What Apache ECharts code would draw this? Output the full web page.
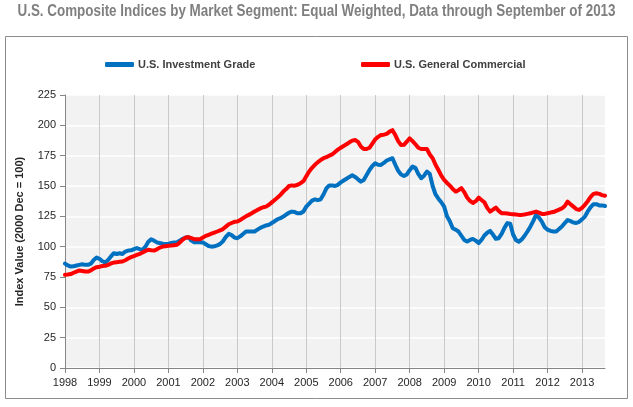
<!DOCTYPE html>
<html>
<head>
<meta charset="utf-8">
<script src="https://cdn.jsdelivr.net/npm/echarts/dist/echarts.min.js"></script>
<style>
html,body{margin:0;padding:0;background:#fff;}
#chart{width:633px;height:407px;}
</style>
</head>
<body>
<div id="chart"></div>
<script>
// Monthly observations, Jan 1998 .. Sep 2013
var startYear = 1998;
var monthCount = 189;
var yTicks = [0, 25, 50, 75, 100, 125, 150, 175, 200, 225];

var investmentGrade = [
  86, 84.5, 83.6, 83.8, 84.5, 85, 85.5, 85, 85, 86, 89, 91,
  90, 88, 87, 89, 92, 94.6, 94, 94.6, 94, 96, 96.8, 97,
  98, 98.8, 98, 97.4, 100, 104, 106, 105, 103.5, 103, 102.5, 102.3,
  102.3, 103, 103.5, 103.7, 105, 106.5, 107.5, 107.8, 105, 103.7, 103.7, 103.7,
  103.5, 102, 100.5, 100, 100.3, 101, 102.3, 104.5, 108, 110.6, 109.5, 107.5,
  107, 108.5, 110.5, 112.5, 112.5, 112.5, 112.5, 114, 115.5, 116.6, 117.5, 118,
  119.5, 121, 122.6, 123.5, 124.8, 126.5, 128, 128.9, 128.5, 127.5, 127.5, 129,
  133, 135.5, 138, 139, 138.3, 139, 143, 148, 150.5, 150.5, 150, 151,
  153, 154.5, 156, 157.5, 158.8, 157.5, 155.5, 153.6, 155, 159, 163.2, 166.5,
  168.7, 167.5, 167.4, 169, 171, 172, 172.9, 167.5, 162.5, 159.5, 158.3, 159.5,
  163, 166, 165, 160, 156.4, 158.5, 161.8, 160, 150, 143, 139.5, 136.6,
  133, 125, 120.7, 115.2, 114, 112.5, 109, 105.5, 104.2, 105.5, 106.4, 105,
  103, 105.5, 109.2, 111.5, 113, 110, 106.5, 107, 110.5, 115.5, 119.4, 119,
  110, 105.5, 104, 106, 109, 112.5, 116.5, 121, 126.2, 124, 120.7, 116,
  114, 113, 112.5, 112.5, 114.5, 116.6, 119.5, 122, 121, 119.9, 119.5, 120.5,
  122.5, 124.8, 129, 132.5, 135, 135, 134, 134, 133.5
];

var generalCommercial = [
  76.8, 77, 77.4, 78.5, 79.5, 80.4, 80, 79.5, 79.5, 80.5, 82, 83.1,
  83.5, 84, 84.2, 85, 86.2, 86.9, 87.2, 87.5, 87.8, 88.8, 90.2, 91.4,
  92.3, 93.2, 94.1, 95.2, 96.5, 97.4, 97, 96.8, 97.8, 99.2, 100.1, 100.4,
  100.7, 100.9, 101.2, 101.5, 103.5, 105.8, 107.5, 107.8, 107, 106.2, 106.2, 106.2,
  107.5, 108.9, 109.8, 110.7, 111.6, 112.5, 113.5, 114.5, 116.5, 118.5, 119.5, 120.5,
  120.7, 122, 123.5, 125, 126.2, 127.5, 129, 130.3, 131.5, 132.5, 133, 134.5,
  136.5, 138.5, 140.5, 142.7, 145.4, 147.5, 150, 150.5, 150.3, 151, 152.3, 154,
  158, 162, 165, 167.5, 169.5, 171.5, 172.9, 173.8, 175, 176, 178, 180,
  181.5, 183, 184.4, 186, 187.4, 187.9, 186.4, 182.5, 180.5, 180.5, 181.5, 185,
  188.5, 190.5, 192, 192.3, 193, 194.8, 196, 192, 187, 183.8, 183.9, 186.5,
  189.3, 187, 184.4, 181.5, 180.5, 180.5, 180.5, 176, 172.9, 167.5, 163.2, 158.5,
  155, 152.5, 150.3, 147.5, 145.4, 146.5, 148.2, 145, 140.5, 137.7, 136, 137.5,
  140.4, 138.5, 136.6, 132, 128.9, 130.5, 132.2, 129.5, 127.6, 127.5, 127.3, 127,
  126.8, 126.5, 126.2, 126.2, 126.5, 127, 127.5, 128.3, 128.9, 128, 127, 127,
  127.5, 128.1, 128.5, 129.5, 130.5, 131.5, 133.5, 137.1, 135, 133, 131, 130.3,
  132, 134.5, 137.5, 141, 143.5, 144, 143.5, 142.5, 142
];

var seriesNames = ['U.S. Investment Grade', 'U.S. General Commercial'];
var seriesColors = ['#0070c0', '#ff0000'];
var titleText = 'U.S. Composite Indices by Market Segment: Equal Weighted, Data through September of 2013';

var months = [];
for (var i = 0; i < monthCount; i++) {
  var y = startYear + Math.floor(i / 12);
  var m = (i % 12) + 1;
  months.push(y + '-' + (m < 10 ? '0' + m : m));
}

// condensed title: measure and squeeze horizontally to the reference width
var titleFont = 'bold 16px "Liberation Sans", Arial, sans-serif';
var mctx = document.createElement('canvas').getContext('2d');
mctx.font = titleFont;
var titleW = mctx.measureText(titleText).width;
var titleScale = Math.min(1, 598 / titleW);

var chart = echarts.init(document.getElementById('chart'));
var labelFont = 'Liberation Sans, Arial, sans-serif';
var legendText = {fontFamily: labelFont, fontWeight: 'bold', fontSize: 11, color: '#404040', padding: [0, 0, 0, -1]};
var option = {
  animation: false,
  backgroundColor: '#ffffff',
  graphic: [{
    type: 'rect',
    shape: {x: 5.5, y: 36.5, width: 622, height: 362},
    style: {fill: 'none', stroke: '#8c8c8c', lineWidth: 1},
    silent: true
  }, {
    type: 'text',
    x: 316.5,
    y: 4,
    scaleX: titleScale,
    scaleY: 1,
    silent: true,
    style: {
      text: titleText,
      font: titleFont,
      fill: '#7f7f7f',
      textAlign: 'center',
      textVerticalAlign: 'top'
    }
  }],
  legend: [{
    data: [seriesNames[0]],
    left: 105,
    top: 59,
    padding: 0,
    icon: 'roundRect',
    itemWidth: 29,
    itemHeight: 5,
    itemGap: 3,
    textStyle: legendText
  }, {
    data: [seriesNames[1]],
    left: 361,
    top: 59,
    padding: 0,
    icon: 'roundRect',
    itemWidth: 29,
    itemHeight: 5,
    itemGap: 3,
    textStyle: legendText
  }],
  grid: {
    left: 65,
    top: 95,
    right: 28,
    bottom: 39,
    show: true,
    backgroundColor: '#f2f2f2',
    borderWidth: 0
  },
  xAxis: {
    type: 'category',
    data: months,
    boundaryGap: false,
    axisLine: {lineStyle: {color: '#868686', width: 1}},
    axisTick: {show: true, interval: 11, length: 5, lineStyle: {color: '#868686'}},
    axisLabel: {
      interval: 11,
      margin: 9,
      fontFamily: labelFont,
      fontSize: 11,
      color: '#262626',
      formatter: function (v) { return v.slice(0, 4); }
    },
    splitLine: {show: true, interval: 11, lineStyle: {color: '#c9c9c9', width: 1}}
  },
  yAxis: {
    type: 'value',
    min: yTicks[0],
    max: yTicks[yTicks.length - 1],
    interval: 25,
    name: 'Index Value (2000 Dec = 100)',
    nameLocation: 'middle',
    nameGap: 40,
    nameTextStyle: {fontFamily: labelFont, fontWeight: 'bold', fontSize: 11, color: '#262626'},
    axisLine: {show: true, lineStyle: {color: '#868686', width: 1}},
    axisTick: {show: true, length: 5, lineStyle: {color: '#868686'}},
    axisLabel: {margin: 9, fontFamily: labelFont, fontSize: 11, color: '#262626'},
    splitLine: {show: true, lineStyle: {color: '#ffffff', width: 1.5}}
  },
  series: [{
    name: seriesNames[0],
    type: 'line',
    data: investmentGrade,
    showSymbol: false,
    symbol: 'none',
    color: seriesColors[0],
    lineStyle: {width: 4, color: seriesColors[0], cap: 'round', join: 'round'}
  }, {
    name: seriesNames[1],
    type: 'line',
    data: generalCommercial,
    showSymbol: false,
    symbol: 'none',
    color: seriesColors[1],
    lineStyle: {width: 4, color: seriesColors[1], cap: 'round', join: 'round'}
  }]
};
chart.setOption(option);
</script>
</body>
</html>
